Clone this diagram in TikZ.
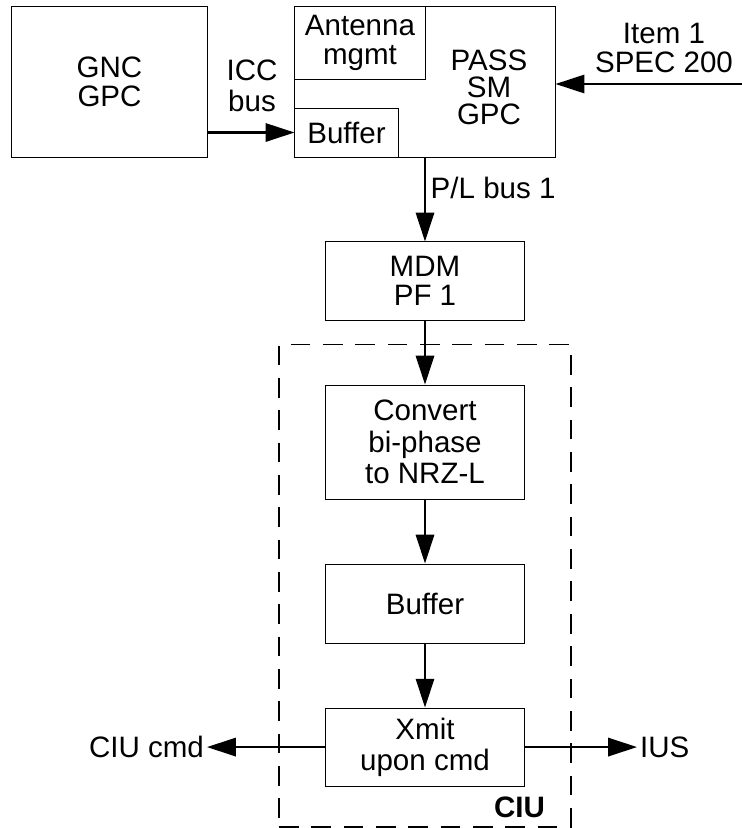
\documentclass[tikz,border=0pt]{standalone}
\usepackage{fontspec}
\setmainfont{Liberation Sans}
\usetikzlibrary{arrows.meta, positioning, fit}

\begin{document}
\begin{tikzpicture}[
    x=0.025cm, y=-0.025cm,
    font=\fontsize{21}{20.6}\selectfont,
    box/.style={
      draw,
      line width=0.7pt,
      align=center,
      inner sep=0pt
    },
    colbox/.style={
      box,
      minimum width=4.975cm
    },
    arr/.style={
      -{Triangle[length=20.5pt, width=13pt]},
      line width=1.5pt
    },
    ciubox/.style={
      draw,
      line width=1.3pt,
      dash pattern=on 14pt off 9pt,
      inner xsep=1.15cm,
      inner ysep=1.0cm
    },
    node distance=1.6cm
]
\useasboundingbox (0,0) rectangle (742,828);

% top row
\node[box, minimum width=4.875cm, minimum height=3.75cm] (gnc) at (109.5,82) {GNC\\GPC};
\node[box, minimum width=6.5cm, minimum height=3.75cm] (pass) at (425,82) {};
\node[box, anchor=north west, minimum width=3.25cm, minimum height=1.8cm] (ant) at (pass.north west) {Antenna\\mgmt};
\node[box, anchor=south west, minimum width=2.575cm, minimum height=1.225cm] (buf1) at (pass.south west) {Buffer};
\node[align=center, font=\fontsize{21}{19.2}\selectfont] (passtxt) at (489,87) {PASS\\SM\\GPC};
\node[align=center] (item) at (664,48) {Item 1\\SPEC 200};
\node[align=center, font=\fontsize{21}{22.5}\selectfont] (icc) at (252,86) {ICC\\bus};
\coordinate (itemin) at (742,84);

% CIU column
\node[colbox, minimum height=1.95cm] (mdm) at (425,281) {MDM\\PF 1};
\node[colbox, minimum height=2.85cm, below=of mdm, font=\fontsize{21}{22.3}\selectfont] (conv) {Convert\\bi-phase\\to NRZ-L};
\node[colbox, minimum height=1.975cm, below=of conv] (buf2) {Buffer};
\node[colbox, minimum height=1.95cm, below=of buf2, font=\fontsize{21}{22.3}\selectfont] (xmit) {Xmit\\upon cmd};
\node[ciubox, fit=(conv)(buf2)(xmit)] (ciu) {};
\node[anchor=south east, font=\fontsize{21}{22}\selectfont\bfseries] (ciulbl) at ([xshift=-0.55cm, yshift=0.12cm]ciu.south east) {CIU};

\node[left=2.95cm of xmit, inner sep=2pt] (ciucmd) {CIU cmd};
\node[right=2.8cm of xmit, inner sep=2pt] (ius) {IUS};

% connectors
\draw[arr] (itemin) -- (pass.east |- itemin);
\draw[arr] (gnc.east |- buf1.west) -- (buf1.west);
\draw[arr] (pass.south) -- node[right, pos=0.36]{P/L bus 1} (mdm.north);
\draw[arr] (mdm) -- (conv);
\draw[arr] (conv) -- (buf2);
\draw[arr] (buf2) -- (xmit);
\draw[arr] (xmit.west) -- (ciucmd.east);
\draw[arr] (xmit.east) -- (ius.west);
\end{tikzpicture}
\end{document}
